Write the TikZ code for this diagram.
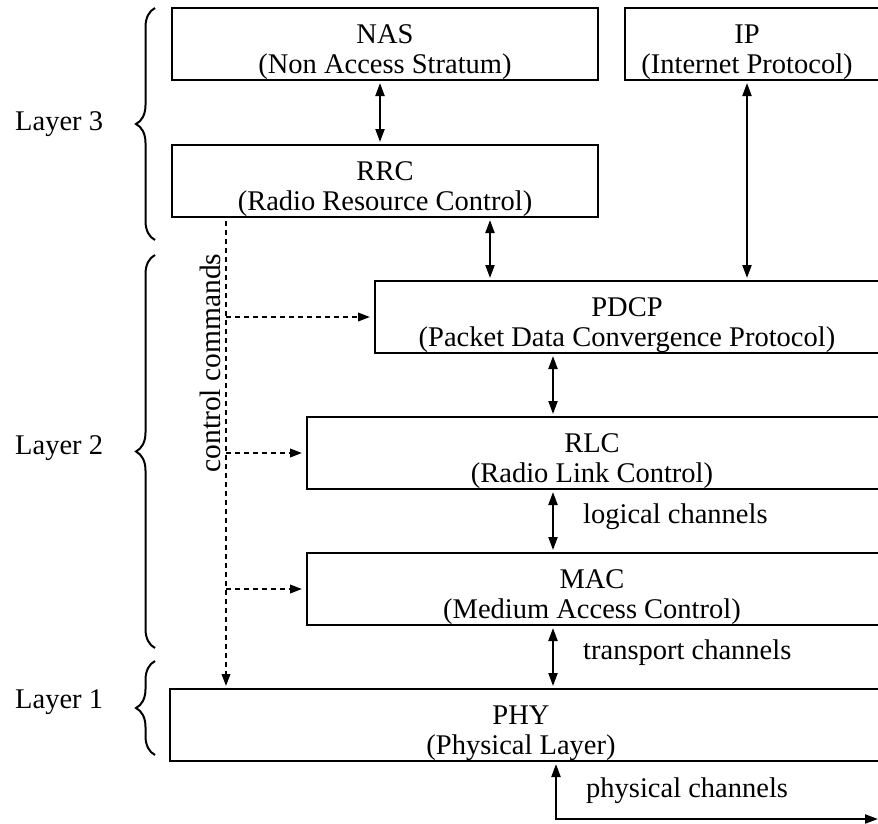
\documentclass[tikz,border=0pt]{standalone}
\IfFileExists{t1ppl.fd}{%
  \IfFileExists{pplr8t.tfm}{%
    \usepackage[T1]{fontenc}\renewcommand{\rmdefault}{ppl}%
  }{\usepackage{fontspec}\setmainfont{Liberation Serif}}%
}{\usepackage{fontspec}\setmainfont{Liberation Serif}}
\usetikzlibrary{arrows.meta,decorations.pathreplacing}

\tikzset{
  box/.style={draw, line width=2.5pt, inner sep=0pt, outer sep=0pt, anchor=north west, minimum height=72pt},
  ttl/.style={anchor=base, inner sep=0pt},
  side/.style={anchor=mid west, inner sep=0pt},
  arr/.style={line width=2.1pt, {Triangle[length=13pt,width=9pt]}-{Triangle[length=13pt,width=9pt]}, shorten >=3pt, shorten <=3pt},
  ctl/.style={line width=2.1pt, dash pattern=on 5pt off 4pt, -{Triangle[length=12pt,width=8.5pt]}},
  layerbrace/.style={line width=2pt, decorate, decoration={brace, amplitude=19pt}},
}

\begin{document}
\begin{tikzpicture}[x=1pt, y=-1pt, font=\fontsize{28.5}{34}\selectfont]
  \useasboundingbox (0,0) rectangle (878,823);

  % protocol boxes
  \node[box, minimum width=426pt] (nas)  at (172,8)   {};
  \node[box, minimum width=260pt] (ip)   at (625,8)   {};
  \node[box, minimum width=426pt] (rrc)  at (172,145) {};
  \node[box, minimum width=510pt] (pdcp) at (375,281) {};
  \node[box, minimum width=578pt] (rlc)  at (307,417) {};
  \node[box, minimum width=578pt] (mac)  at (307,553) {};
  \node[box, minimum width=715pt] (phy)  at (170,689) {};

  % box titles and full names
  \node[ttl] (nasT)  at (385,43)  {NAS};
  \node[ttl] (nasS)  at (385,73)  {(Non Access Stratum)};
  \node[ttl] (ipT)   at (747,43)  {IP};
  \node[ttl] (ipS)   at (747,73)  {(Internet Protocol)};
  \node[ttl] (rrcT)  at (385,180) {RRC};
  \node[ttl] (rrcS)  at (385,210) {(Radio Resource Control)};
  \node[ttl] (pdcpT) at (627,316) {PDCP};
  \node[ttl] (pdcpS) at (627,346) {(Packet Data Convergence Protocol)};
  \node[ttl] (rlcT)  at (592,452) {RLC};
  \node[ttl] (rlcS)  at (592,482) {(Radio Link Control)};
  \node[ttl] (macT)  at (592,588) {MAC};
  \node[ttl] (macS)  at (592,618) {(Medium Access Control)};
  \node[ttl] (phyT)  at (521,724) {PHY};
  \node[ttl] (phyS)  at (521,754) {(Physical Layer)};

  % data paths between the layers
  \draw[arr] (380,0 |- nas.south)  -- (380,0 |- rrc.north);
  \draw[arr] (747,0 |- ip.south)   -- (747,0 |- pdcp.north);
  \draw[arr] (490,0 |- rrc.south)  -- (490,0 |- pdcp.north);
  \draw[arr] (553,0 |- pdcp.south) -- (553,0 |- rlc.north);
  \draw[arr] (553,0 |- rlc.south)  -- (553,0 |- mac.north);
  \draw[arr] (553,0 |- mac.south)  -- (553,0 |- phy.north);

  % physical channels leaving the PHY
  \coordinate (pcorner) at (556,819);
  \coordinate (pend) at (878,819);
  \draw[line width=2.1pt, {Triangle[length=13pt,width=9pt]}-{Triangle[length=13pt,width=9pt]}, shorten <=3pt]
    (pcorner |- phy.south) -- (pcorner) -- (pend);

  % channel labels
  \node[side] (logc) at (583,521) {logical channels};
  \node[side] (trc)  at (583,657) {transport channels};
  \node[side] (phc)  at (586,795) {physical channels};

  % control commands from RRC
  \coordinate (cA) at (226,0);
  \draw[ctl, shorten <=4pt, shorten >=3pt] (cA |- rrc.south) -- (cA |- phy.north);
  \draw[ctl, shorten >=5pt] (cA |- pdcp.west) -- (pdcp.west);
  \draw[ctl, shorten >=5pt] (cA |- rlc.west)  -- (rlc.west);
  \draw[ctl, shorten >=5pt] (cA |- mac.west)  -- (mac.west);
  \node[rotate=90, inner sep=0pt, font=\fontsize{29.5}{34}\selectfont] (ctlT) at (210,363) {control commands};

  % layer braces
  \coordinate (b3a) at (155,240);
  \coordinate (b3b) at (155,8);
  \coordinate (b2a) at (155,648);
  \coordinate (b2b) at (155,255);
  \coordinate (b1a) at (155,755);
  \coordinate (b1b) at (155,661);
  \draw[layerbrace] (b3a) -- (b3b);
  \draw[layerbrace] (b2a) -- (b2b);
  \draw[layerbrace] (b1a) -- (b1b);
  \node[side] (l3) at (15,128) {Layer 3};
  \node[side] (l2) at (15,452) {Layer 2};
  \node[side] (l1) at (15,706) {Layer 1};
\end{tikzpicture}
\end{document}
